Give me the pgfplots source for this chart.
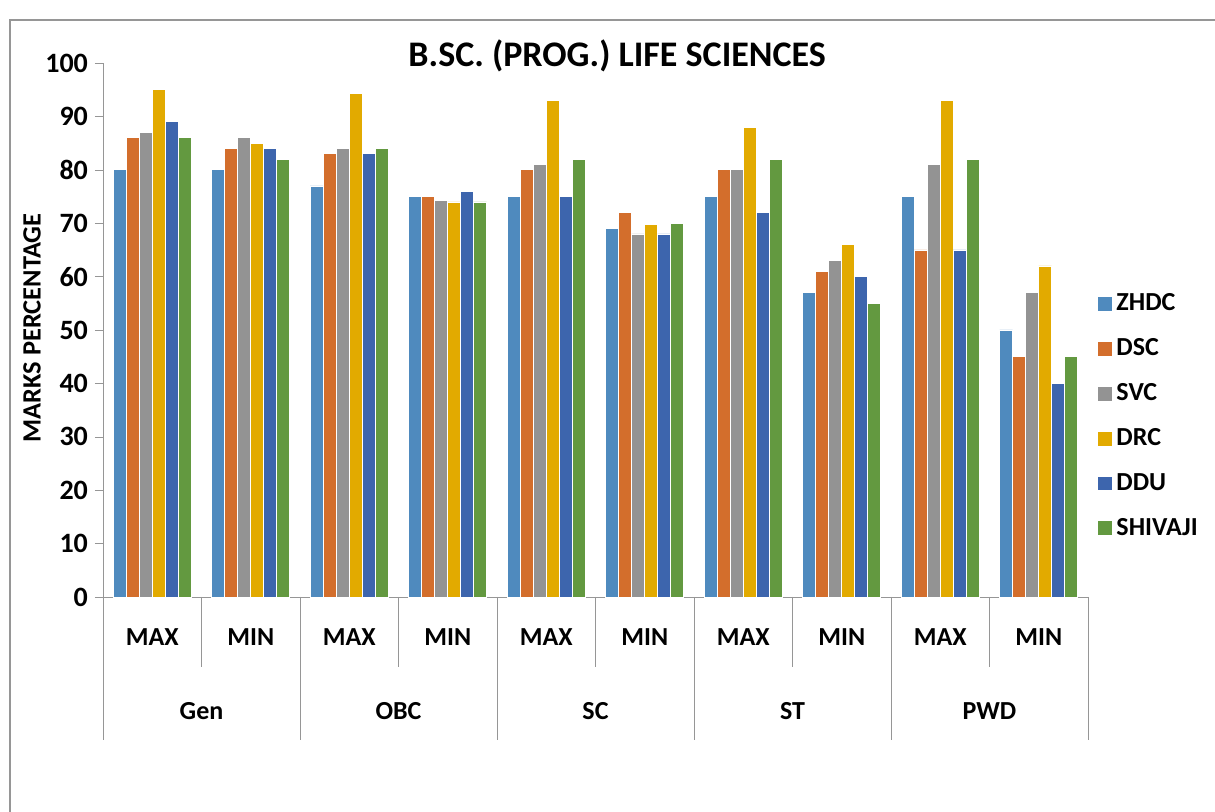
\documentclass[border=0pt]{standalone}
\usepackage{pgfplots}
\pgfplotsset{compat=1.18}
\usepackage{fontspec}
\setmainfont{Carlito}
\definecolor{cA}{RGB}{79,138,190}
\definecolor{cB}{RGB}{211,110,44}
\definecolor{cC}{RGB}{147,147,147}
\definecolor{cD}{RGB}{226,170,0}
\definecolor{cE}{RGB}{61,101,173}
\definecolor{cF}{RGB}{99,153,64}
\definecolor{axgray}{RGB}{150,150,150}
\newcommand{\lf}{\bfseries\fontsize{13}{13}\selectfont}
\newcommand{\tf}{\bfseries\fontsize{14}{14}\selectfont}
\begin{document}
\begin{tikzpicture}[x=1pt,y=1pt]
\path[use as bounding box] (-51.5,-107.5) rectangle (556,298.5);
\draw[axgray, line width=1.2pt] (-46.5,-120) -- (-46.5,288.5) -- (570,288.5);
\begin{axis}[
  at={(0,0)}, anchor=south west,
  scale only axis, width=492.5pt, height=267pt,
  xmin=-0.5, xmax=9.5, ymin=0, ymax=100,
  clip=false,
  ybar=0pt, bar width=6.5pt,
  axis x line=bottom, axis y line=left,
  axis line style={draw=axgray, -},
  xtick=\empty,
  ytick={0,10,...,100},
  tick align=outside, major tick length=4pt,
  ytick style={draw=axgray},
  yticklabel style={font=\tf},
  /pgf/number format/assume math mode=true,
  legend style={at={(rel axis cs:1.009,0.339)}, anchor=west, draw=none, fill=none,
    font=\lf, row sep=8.4pt, inner sep=0pt, outer sep=0pt,
    nodes={inner sep=2pt}},
  legend cell align=left,
  legend image code/.code={\fill[#1] (0pt,-3.7pt) rectangle (7.5pt,3.7pt);},
  every axis plot/.append style={draw=white, line width=0.3pt},
]
\addplot[fill=cA] coordinates {(0,80) (1,80) (2,77) (3,75) (4,75) (5,69) (6,75) (7,57) (8,75) (9,50)};
\addplot[fill=cB] coordinates {(0,86) (1,84) (2,83) (3,75) (4,80) (5,72) (6,80) (7,61) (8,65) (9,45)};
\addplot[fill=cC] coordinates {(0,87) (1,86) (2,84) (3,74.3) (4,81) (5,68) (6,80) (7,63) (8,81) (9,57)};
\addplot[fill=cD] coordinates {(0,95) (1,85) (2,94.3) (3,74) (4,93) (5,69.7) (6,88) (7,66) (8,93) (9,62)};
\addplot[fill=cE] coordinates {(0,89) (1,84) (2,83) (3,76) (4,75) (5,68) (6,72) (7,60) (8,65) (9,40)};
\addplot[fill=cF] coordinates {(0,86) (1,82) (2,84) (3,74) (4,82) (5,70) (6,82) (7,55) (8,82) (9,45)};
\legend{ZHDC,DSC,SVC,DRC,DDU,SHIVAJI}
% category separators
\draw[axgray] (axis cs:-0.5,0) -- ++(0pt,-71.5pt);
\draw[axgray] (axis cs:1.5,0) -- ++(0pt,-71.5pt);
\draw[axgray] (axis cs:3.5,0) -- ++(0pt,-71.5pt);
\draw[axgray] (axis cs:5.5,0) -- ++(0pt,-71.5pt);
\draw[axgray] (axis cs:7.5,0) -- ++(0pt,-71.5pt);
\draw[axgray] (axis cs:9.5,0) -- ++(0pt,-71.5pt);
\draw[axgray] (axis cs:0.5,0) -- ++(0pt,-35pt);
\draw[axgray] (axis cs:2.5,0) -- ++(0pt,-35pt);
\draw[axgray] (axis cs:4.5,0) -- ++(0pt,-35pt);
\draw[axgray] (axis cs:6.5,0) -- ++(0pt,-35pt);
\draw[axgray] (axis cs:8.5,0) -- ++(0pt,-35pt);
% sub-category labels
\node[font=\lf, yshift=-20pt] at (axis cs:0,0) {MAX};
\node[font=\lf, yshift=-20pt] at (axis cs:1,0) {MIN};
\node[font=\lf, yshift=-20pt] at (axis cs:2,0) {MAX};
\node[font=\lf, yshift=-20pt] at (axis cs:3,0) {MIN};
\node[font=\lf, yshift=-20pt] at (axis cs:4,0) {MAX};
\node[font=\lf, yshift=-20pt] at (axis cs:5,0) {MIN};
\node[font=\lf, yshift=-20pt] at (axis cs:6,0) {MAX};
\node[font=\lf, yshift=-20pt] at (axis cs:7,0) {MIN};
\node[font=\lf, yshift=-20pt] at (axis cs:8,0) {MAX};
\node[font=\lf, yshift=-20pt] at (axis cs:9,0) {MIN};
% group labels
\node[font=\lf, yshift=-57pt] at (axis cs:0.5,0) {Gen};
\node[font=\lf, yshift=-57pt] at (axis cs:2.5,0) {OBC};
\node[font=\lf, yshift=-57pt] at (axis cs:4.5,0) {SC};
\node[font=\lf, yshift=-57pt] at (axis cs:6.5,0) {ST};
\node[font=\lf, yshift=-57pt] at (axis cs:8.5,0) {PWD};
% title and y label
\node[font=\bfseries\fontsize{18}{18}\selectfont, yshift=3.5pt] at (rel axis cs:0.522,1) {B.SC. (PROG.) LIFE SCIENCES};
\node[font=\bfseries\fontsize{13.2}{13.2}\selectfont, rotate=90, yshift=35.5pt] at (rel axis cs:0,0.504) {MARKS PERCENTAGE};
\end{axis}
\end{tikzpicture}
\end{document}
